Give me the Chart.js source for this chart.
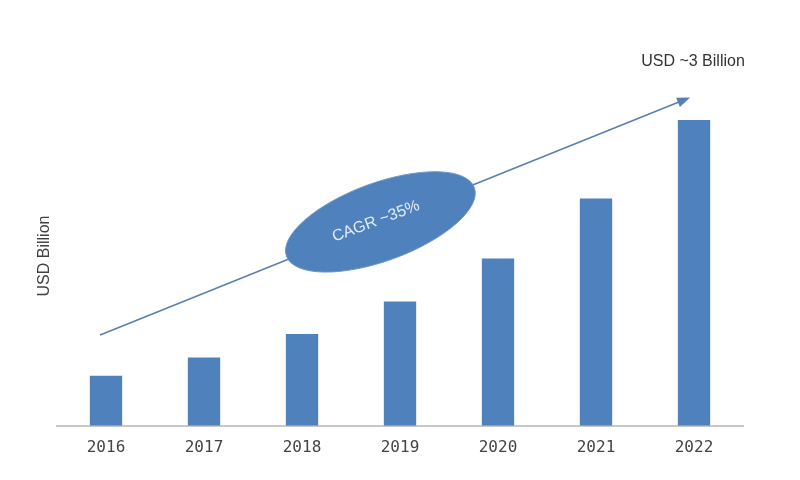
<!DOCTYPE html>
<html lang="en">
<head>
    <meta charset="UTF-8">
    <title>USD Billion chart</title>
    <script src="https://cdn.jsdelivr.net/npm/chart.js"></script>
    <style>
        body {
            margin: 0;
            background-color: #fff;
        }
        #chart {
            display: block;
        }
    </style>
</head>
<body>
<canvas id="chart" width="800" height="480"></canvas>

<script>
    // data
    const years = ['2016', '2017', '2018', '2019', '2020', '2021', '2022'];
    const marketValues = [0.49, 0.67, 0.90, 1.22, 1.64, 2.23, 3.00];
    const yAxisTitle = 'USD Billion';
    const endLabel = 'USD ~3 Billion';
    const cagrLabel = 'CAGR ~35%';

    const barColor = '#4F81BD';

    // arrow + ellipse + labels, placed in data space (category index, value)
    const annotationPlugin = {
        id: 'growthArrow',
        afterDatasetsDraw(chart) {
            const ctx = chart.ctx;
            const x = chart.scales.x;
            const y = chart.scales.y;

            const x0 = x.getPixelForValue(-0.06), y0 = y.getPixelForValue(0.89);
            const x1 = x.getPixelForValue(5.96), y1 = y.getPixelForValue(3.22);
            const ang = Math.atan2(y1 - y0, x1 - x0);

            ctx.save();
            // arrow line
            ctx.strokeStyle = '#5a7fae';
            ctx.lineWidth = 1.5;
            ctx.beginPath();
            ctx.moveTo(x0, y0);
            ctx.lineTo(x1 - 8 * Math.cos(ang), y1 - 8 * Math.sin(ang));
            ctx.stroke();
            // arrow head
            ctx.fillStyle = '#5a7fae';
            ctx.beginPath();
            ctx.moveTo(x1, y1);
            ctx.lineTo(x1 - 13 * Math.cos(ang) + 5 * Math.sin(ang), y1 - 13 * Math.sin(ang) - 5 * Math.cos(ang));
            ctx.lineTo(x1 - 13 * Math.cos(ang) - 5 * Math.sin(ang), y1 - 13 * Math.sin(ang) + 5 * Math.cos(ang));
            ctx.closePath();
            ctx.fill();

            // ellipse with CAGR text
            const cx = x.getPixelForValue(2.8), cy = y.getPixelForValue(2.0);
            ctx.fillStyle = barColor;
            ctx.strokeStyle = '#6f95c8';
            ctx.lineWidth = 1;
            ctx.beginPath();
            ctx.ellipse(cx, cy, 100, 39, -0.35, 0, Math.PI * 2);
            ctx.fill();
            ctx.stroke();

            ctx.translate(cx, cy);
            ctx.rotate(-0.36);
            ctx.fillStyle = '#e4ecf6';
            ctx.font = '16px "Liberation Sans", Arial, sans-serif';
            ctx.textAlign = 'center';
            ctx.textBaseline = 'middle';
            ctx.fillText(cagrLabel, -4, -2);
            ctx.restore();

            // end value label
            ctx.save();
            ctx.fillStyle = '#333';
            ctx.font = '16px "Liberation Sans", Arial, sans-serif';
            ctx.textAlign = 'center';
            ctx.textBaseline = 'middle';
            ctx.fillText(endLabel, 693, 62);

            // y axis title
            ctx.translate(45, 256);
            ctx.rotate(-Math.PI / 2);
            ctx.fillStyle = '#404040';
            ctx.font = '16px "Liberation Sans", Arial, sans-serif';
            ctx.fillText(yAxisTitle, 0, 0);
            ctx.restore();
        }
    };

    const ctx = document.getElementById('chart').getContext('2d');
    new Chart(ctx, {
        type: 'bar',
        data: {
            labels: years,
            datasets: [{
                label: yAxisTitle,
                data: marketValues,
                backgroundColor: barColor,
                borderWidth: 0,
                categoryPercentage: 1,
                barPercentage: 0.33
            }]
        },
        options: {
            responsive: false,
            animation: false,
            layout: {
                padding: { left: 57, right: 57, top: 18, bottom: 19 }
            },
            plugins: {
                legend: { display: false },
                tooltip: { enabled: false }
            },
            scales: {
                x: {
                    grid: { display: false },
                    border: { color: '#c8c8c8', width: 2 },
                    ticks: {
                        color: '#444',
                        padding: 4,
                        font: { family: '"DejaVu Sans Mono", monospace', size: 16 }
                    }
                },
                y: {
                    display: false,
                    min: 0,
                    max: 4
                }
            }
        },
        plugins: [annotationPlugin]
    });
</script>
</body>
</html>
